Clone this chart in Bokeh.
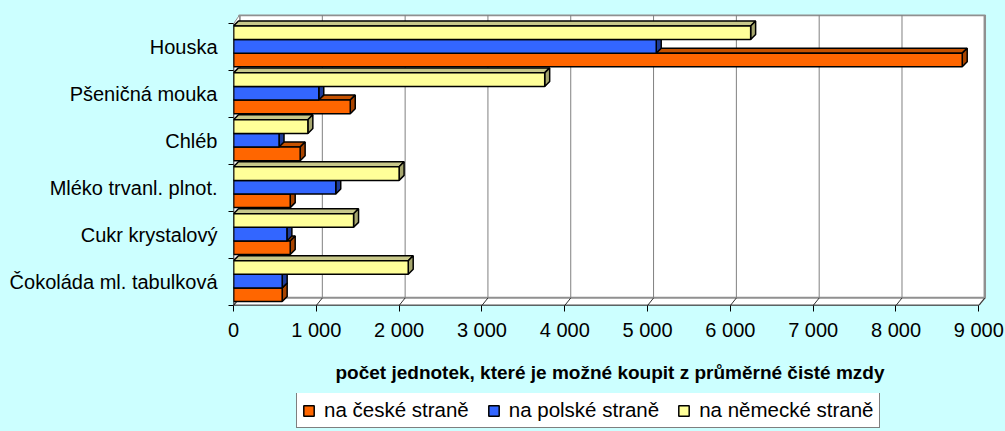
import re
from bokeh.plotting import figure
from bokeh.layouts import column
from bokeh.models import FixedTicker, Legend, LegendItem, Range1d
from bokeh.embed import file_html
from bokeh.resources import INLINE

# ---------------- data ----------------
categories = ["Houska", "Pšeničná mouka", "Chléb", "Mléko trvanl. plnot.",
              "Cukr krystalový", "Čokoláda ml. tabulková"]
na_ceske = [8800, 1410, 805, 685, 685, 588]
na_polske = [5105, 1030, 550, 1235, 645, 588]
na_nemecke = [6245, 3758, 898, 2000, 1450, 2110]
series_names = ["na české straně", "na polské straně", "na německé straně"]
x_ticks = [0, 1000, 2000, 3000, 4000, 5000, 6000, 7000, 8000, 9000]
x_tick_labels = ["0", "1 000", "2 000", "3 000", "4 000", "5 000",
                 "6 000", "7 000", "8 000", "9 000"]
axis_title = "počet jednotek, které je možné koupit z průměrné čisté mzdy"

# ---------------- style ----------------
BG = "#CCFFFF"
FONT = "Liberation Sans"
front_col = ["#FF6600", "#3366FF", "#FFFF99"]
top_col = ["#C65200", "#2A52CC", "#C8C88A"]
side_col = ["#A84400", "#1F3D99", "#A6A66E"]
offsets = [-0.27, 0.02, 0.31]
bar_h = 0.29
bdx, bdy = 60.0, 0.106      # bar depth (data units)
wdx, wdy = 72.5, 0.16       # wall depth
wall_top = 6.185
x_max = 9000

n = len(categories)
centers = [n - 0.5 - i for i in range(n)]

p1 = figure(width=1005, height=393, output_backend="svg", toolbar_location=None,
            x_range=Range1d(0, 9093), y_range=Range1d(0, 6.198),
            min_border_left=233, min_border_right=19, min_border_top=14,
            min_border_bottom=88)
p1.background_fill_color = BG
p1.border_fill_color = BG
p1.outline_line_color = None
p1.grid.visible = False

# back wall
p1.quad(left=[wdx], right=[x_max + wdx], bottom=[wdy], top=[wall_top],
        fill_color="white", line_color="#909090", line_width=2.5)
# left wall
p1.patch(x=[0, 0, wdx, wdx], y=[0, n, wall_top, wdy], fill_color="white",
         line_color="#909090", line_width=1)
# floor
p1.patch(x=[0, x_max, x_max + wdx, wdx], y=[0, 0, wdy, wdy], fill_color="white",
         line_color="#909090", line_width=1.5)
# grid lines on wall and floor
gx = [t + wdx for t in x_ticks[1:-1]]
p1.segment(x0=gx, y0=[wdy] * len(gx), x1=gx, y1=[wall_top] * len(gx),
           line_color="#808080", line_width=1)
p1.segment(x0=x_ticks, y0=[0] * len(x_ticks), x1=[t + wdx for t in x_ticks],
           y1=[wdy] * len(x_ticks), line_color="#333333", line_width=1)

# bars
for s, vals in enumerate([na_ceske, na_polske, na_nemecke]):
    bots = [c + offsets[s] - bar_h / 2 for c in centers]
    tops = [c + offsets[s] + bar_h / 2 for c in centers]
    tx, ty, sx, sy = [], [], [], []
    for v, b, t in zip(vals, bots, tops):
        tx.append([0, v, v + bdx, bdx])
        ty.append([t, t, t + bdy, t + bdy])
        sx.append([v, v, v + bdx, v + bdx])
        sy.append([b, t, t + bdy, b + bdy])
    p1.patches(xs=tx, ys=ty, fill_color=top_col[s], line_color="black", line_width=1.5)
    p1.patches(xs=sx, ys=sy, fill_color=side_col[s], line_color="black", line_width=1.5)
    p1.quad(left=[0] * n, right=vals, bottom=bots, top=tops,
            fill_color=front_col[s], line_color="black", line_width=1.5)

# axis lines
p1.segment(x0=[0, 0], y0=[0, 0], x1=[0, x_max], y1=[n, 0], line_color="black",
           line_width=1.5)

# x axis
xa = p1.xaxis[0]
xa.ticker = FixedTicker(ticks=x_ticks)
xa.major_label_overrides = {t: l for t, l in zip(x_ticks, x_tick_labels)}
xa.axis_line_color = None
xa.major_tick_out = 6
xa.major_tick_in = 0
xa.major_tick_line_color = "black"
xa.minor_tick_line_color = None
xa.major_label_text_font = FONT
xa.major_label_text_font_size = "20px"
xa.major_label_text_color = "black"
xa.major_label_standoff = 7
xa.axis_label = axis_title
xa.axis_label_text_font = FONT
xa.axis_label_text_font_size = "19px"
xa.axis_label_text_font_style = "bold"
xa.axis_label_text_color = "black"
xa.axis_label_standoff = 18

# y axis
ya = p1.yaxis[0]
ya.ticker = FixedTicker(ticks=centers, minor_ticks=list(range(n + 1)))
ya.major_label_overrides = {c: name for c, name in zip(centers, categories)}
ya.axis_line_color = None
ya.major_tick_line_color = None
ya.major_tick_out = 0
ya.major_tick_in = 0
ya.minor_tick_out = 5
ya.minor_tick_in = 0
ya.minor_tick_line_color = "black"
ya.major_label_text_font = FONT
ya.major_label_text_font_size = "20px"
ya.major_label_text_color = "black"
ya.major_label_standoff = 11

# legend strip below the chart (its frame is aligned with the chart frame)
p2 = figure(width=1005, height=38, output_backend="svg", toolbar_location=None,
            x_range=Range1d(0, 1), y_range=Range1d(0, 1),
            x_axis_location=None, y_axis_location=None, min_border=0)
p2.background_fill_color = BG
p2.border_fill_color = BG
p2.outline_line_color = None
p2.grid.visible = False
# legend-only glyphs, kept outside the visible range of the strip
leg_renderers = [p2.quad(left=[0], right=[1], bottom=[2], top=[3], fill_color=c,
                         line_color="black", line_width=1.5) for c in front_col]
legend = Legend(items=[LegendItem(label=nm, renderers=[r])
                       for nm, r in zip(series_names, leg_renderers)],
                orientation="horizontal", location=(63, 3))
legend.border_line_color = "black"
legend.border_line_width = 1
legend.background_fill_color = "white"
legend.background_fill_alpha = 1
legend.label_text_font = FONT
legend.label_text_font_size = "20.5px"
legend.label_text_color = "black"
legend.glyph_width = 13
legend.glyph_height = 13
legend.label_standoff = 9
legend.spacing = 18
legend.padding = 5
legend.margin = 0
legend.label_height = 20
p2.add_layout(legend)

p = column(p1, p2, spacing=0)

html = file_html(p, INLINE)
html = html.replace("</head>",
                    "<style>html, body { background-color: #CCFFFF !important; }</style></head>", 1)
html = re.sub(r"<body([^>]*)>", r'<body\1 style="background-color:#CCFFFF;">', html, count=1)
open("out.html", "w").write(html)
